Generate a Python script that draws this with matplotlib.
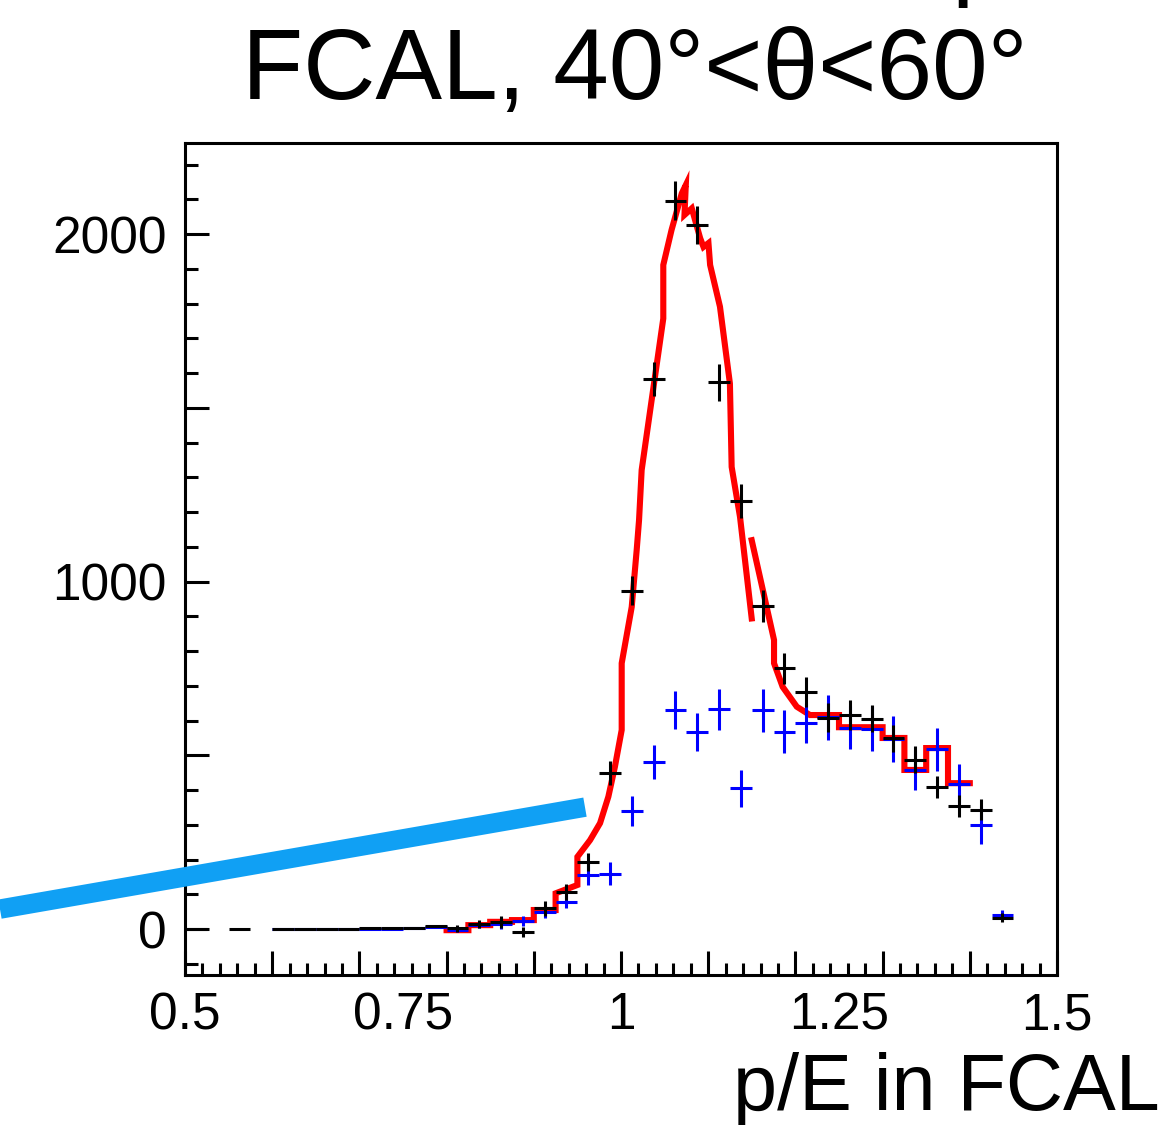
import numpy as np
import matplotlib
matplotlib.use("Agg")
import matplotlib.pyplot as plt
from matplotlib.ticker import MultipleLocator, FuncFormatter

plt.rcParams['font.family'] = ['Liberation Sans', 'DejaVu Sans']

# p/E bin centres (bin width 0.025)
bin_centers = [0.5125 + 0.025 * k for k in range(40)]
half_width = 0.0125

# Measured data (black)
data_vals = [1, np.nan, 1, np.nan, 1, 1, 1, 1, 2, 2,
             3, 9, 2, 14, 21, -8, 60, 107, 194, 450,
             974, 1583, 2096, 2026, 1573, 1232, 930, 750, 683, 608,
             616, 606, 549, 488, 408, 355, 344, 33, np.nan, np.nan]
data_errs = [0, 0, 0, 0, 0, 0, 0, 0, 1, 1,
             2, 4, 9, 12, 17, 14, 22, 22, 26, 34,
             41, 50, 56, 56, 53, 49, 47, 44, 43, 42,
             44, 39, 38, 38, 32, 31, 30, 12, 0, 0]

# Background component (blue)
bkg_vals = [np.nan, np.nan, np.nan, np.nan, 0, 0, 0, 0, 0, 0,
            2, 5, -3, 11.5, 13.5, 23, 50, 79, 157, 159,
            340, 481, 630, 568, 632, 405, 630, 568, 594, 609,
            580, 577, 547, 457, 517, 419, 299, 42, np.nan, np.nan]
bkg_errs = [0, 0, 0, 0, 0, 0, 0, 0, 0, 0,
            1, 2, 6, 9, 14, 14, 17, 19, 30, 33,
            42, 49, 55, 55, 60, 53, 62, 62, 57, 65,
            62, 65, 65, 58, 61, 55, 55, 12, 0, 0]

# Fit curve (red)
fit_x = [0.80, 0.825, 0.825, 0.85, 0.85, 0.875, 0.875, 0.90, 0.90, 0.925,
         0.925, 0.95, 0.95, 0.9645, 0.976, 0.9855, 0.993, 1.0008, 1.0008, 1.0123,
         1.018, 1.0207, 1.0237, 1.0485, 1.0485, 1.058, 1.0697, 1.0743, 1.0728, 1.0812,
         1.0908, 1.0946, 1.1003, 1.1022, 1.1135, 1.1249, 1.1269, 1.1365, 1.1499, np.nan,
         1.1499, 1.1755, 1.1755, 1.1854, 1.2016, 1.2167, 1.25, 1.25, 1.30, 1.30,
         1.325, 1.325, 1.35, 1.35, 1.375, 1.375, 1.40]
fit_y = [-3, -3, 11.5, 11.5, 21, 21, 26, 26, 55, 55,
         103, 127, 208, 256, 305, 381, 467, 573, 765, 927,
         1091, 1177, 1321, 1757, 1911, 2012, 2117, 2141, 2055, 2074,
         1988, 1963, 1974, 1911, 1791, 1570, 1330, 1186, 894, np.nan,
         1119, 832, 765, 697, 640, 616, 616, 581, 581, 550,
         550, 458, 458, 521, 521, 420, 420]

# Marker stroke (light blue)
stroke_x = [0.2878, 0.9587]
stroke_y = [57.6, 351.0]

x_labels = [0.5, 0.75, 1.0, 1.25, 1.5]
x_label_text = ["0.5", "0.75", "1", "1.25", "1.5"]

fig = plt.figure(figsize=(11.69, 11.25), dpi=100)
ax = fig.add_axes([0.15825, 0.13333, 0.74594, 0.73956])

ax.plot(fit_x, fit_y, color='#ff0000', lw=4.4, solid_joinstyle='miter', zorder=2)
ax.errorbar(bin_centers, bkg_vals, xerr=half_width, yerr=bkg_errs, fmt='none',
            ecolor='#0000ff', elinewidth=2.2, capsize=0, zorder=3)
ax.errorbar(bin_centers, data_vals, xerr=half_width, yerr=data_errs, fmt='none',
            ecolor='black', elinewidth=2.2, capsize=0, zorder=4)
ax.plot(stroke_x, stroke_y, color='#10a0f4', lw=14, solid_capstyle='butt',
        clip_on=False, zorder=10)

ax.set_xlim(0.5, 1.5)
ax.set_ylim(-132, 2262)

for side in ['left', 'bottom', 'top', 'right']:
    ax.spines[side].set_linewidth(2.2)

ax.xaxis.set_major_locator(MultipleLocator(0.1))
ax.xaxis.set_minor_locator(MultipleLocator(0.02))
ax.xaxis.set_major_formatter(FuncFormatter(lambda v, p: ""))
ax.yaxis.set_major_locator(MultipleLocator(500))
ax.yaxis.set_minor_locator(MultipleLocator(100))
ax.yaxis.set_major_formatter(
    FuncFormatter(lambda v, p: f"{int(round(v))}" if abs(v % 1000) < 1e-6 else ""))

ax.tick_params(axis='both', which='both', direction='in', width=2.2,
               top=False, right=False)
ax.tick_params(axis='both', which='major', length=17)
ax.tick_params(axis='both', which='minor', length=9)
ax.tick_params(axis='y', which='major', labelsize=37, pad=13)

for xv, txt in zip(x_labels, x_label_text):
    ax.text(xv, -0.065, txt, transform=ax.get_xaxis_transform(),
            ha='center', va='baseline', fontsize=37)

fig.text(0.543, 0.912, "FCAL, 40°<θ<60°", ha='center', va='baseline', fontsize=72)
fig.text(0.814, 1.012, "p", ha='left', va='baseline', fontsize=72)
fig.text(0.9923, 0.0133, "p/E in FCAL", ha='right', va='baseline', fontsize=57)

fig.savefig("out.png", dpi=100)
